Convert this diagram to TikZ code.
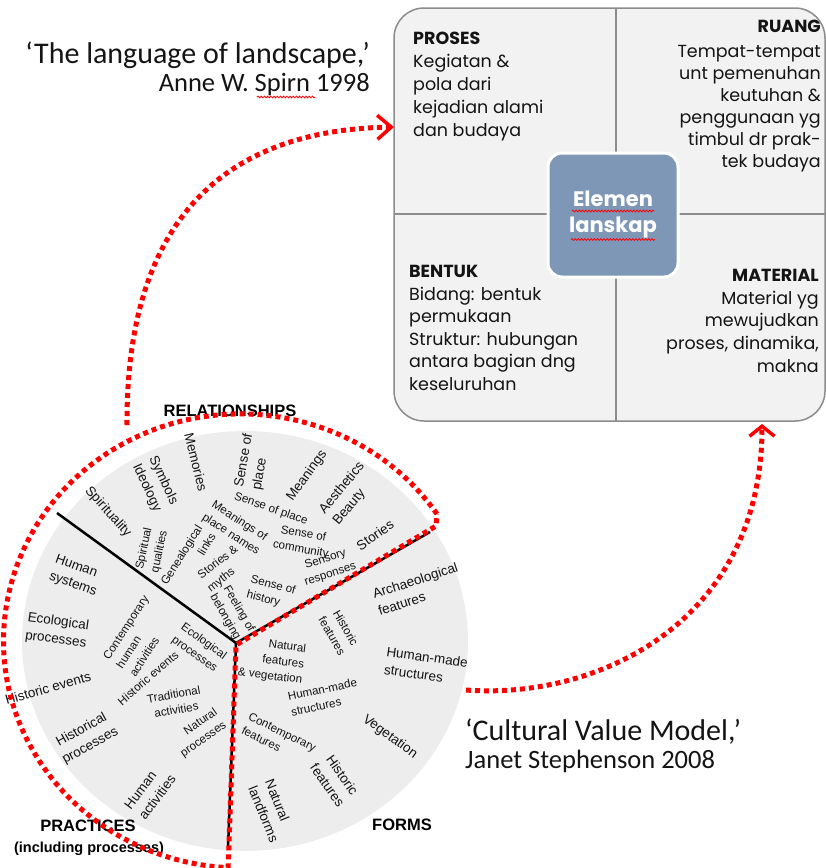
\documentclass[tikz,border=0pt]{standalone}
\usepackage{fontspec}
\setmainfont{Liberation Sans}
\newfontfamily\citefont{Carlito}
\newfontfamily\gothic{Poppins}
\usetikzlibrary{arrows.meta,decorations.pathmorphing}
\definecolor{diskgray}{HTML}{EDEDED}
\definecolor{boxgray}{HTML}{F2F2F2}
\definecolor{boxline}{HTML}{8C8C8C}
\definecolor{elemblue}{HTML}{7F97B7}
\definecolor{txt}{HTML}{141414}
\tikzset{
  lbl/.style={font=\fontsize{13.5}{18}\selectfont, text=txt, inner sep=0pt, align=center},
  ilbl/.style={font=\fontsize{11.6}{15.7}\selectfont, text=txt, inner sep=0pt, align=center},
  heading/.style={font=\bfseries\fontsize{16.5}{18}\selectfont, text=black, inner sep=0pt},
  reddot/.style={draw=red, line width=5pt, dash pattern=on 5pt off 4pt},
  divider/.style={draw=black, line width=2.5pt},
  quadtext/.style={text=txt, inner sep=0pt},
  citebig/.style={font=\citefont\fontsize{30}{30}\selectfont, text=txt, inner sep=0pt},
  citesmall/.style={font=\citefont\fontsize{26.5}{26.5}\selectfont, text=txt, inner sep=0pt},
  squiggle/.style={draw=red, line width=0.8pt, decorate, decoration={snake, amplitude=0.9pt, segment length=3.2pt}},
}
\begin{document}
\begin{tikzpicture}[x=1pt,y=-1pt]
\useasboundingbox (0,0) rectangle (826,868);
% ---------- cultural value model disk ----------
\fill[diskgray] (245,641) ellipse [x radius=223, y radius=210];
% outer labels
\node[lbl, rotate=-48] (spirituality) at (108,512) {Spirituality};
\node[lbl, rotate=-65] (symbols) at (155,484) {Symbols\\Ideology};
\node[lbl, rotate=-76] (memories) at (196,462) {Memories};
\node[lbl, rotate=80, align=left] (senseplaceo) at (253,462) {Sense of\\place};
\node[lbl, rotate=54] (meanings) at (307,476) {Meanings};
\node[lbl, rotate=50, align=left] (aesthetics) at (349,494) {Aesthetics\\Beauty};
\node[lbl, rotate=35] (stories) at (375,535) {Stories};
\node[lbl, rotate=-20, align=left] (humansys) at (76,576) {Human\\systems};
\node[lbl, rotate=-8, align=left] (ecoproco) at (57,631) {Ecological\\processes};
\node[lbl, rotate=16] (histevo) at (48,688) {Historic events};
\node[lbl, rotate=29] (histproc) at (86,738) {Historical\\processes};
\node[lbl, rotate=53, align=left] (humanact) at (150,792) {Human\\activities};
\node[lbl, rotate=18, align=left] (archaeo) at (418,589) {Archaeological\\features};
\node[lbl, rotate=-8, align=left] (humanmadeo) at (426,666) {Human-made\\structures};
\node[lbl, rotate=-36] (vegetation) at (390,737) {Vegetation};
\node[lbl, rotate=-55] (histfeato) at (335,780) {Historic\\features};
\node[lbl, rotate=-68, align=left] (landforms) at (272,811) {Natural\\landforms};
% inner labels
\node[ilbl, rotate=78, align=left] (spiritual) at (152,550) {Spiritual\\qualities};
\node[ilbl, rotate=58, align=right] (genea) at (188,559) {Genealogical\\links};
\node[ilbl, rotate=-33] (meaningsof) at (235,528) {Meanings of\\place names};
\node[ilbl, rotate=-19] (senseplacei) at (271,509) {Sense of place};
\node[ilbl, rotate=-10] (community) at (302,542) {Sense of\\community};
\node[ilbl, rotate=18] (sensory) at (328,567) {Sensory\\responses};
\node[ilbl, rotate=38, align=left] (myths) at (223,569) {Stories \&\\myths};
\node[ilbl, rotate=-60] (belonging) at (232,613) {Feeling of\\belonging};
\node[ilbl, rotate=-15, align=left] (history) at (271,593) {Sense of\\history};
\node[ilbl, rotate=57, align=left] (contemphuman) at (139,636) {Contemporary\\human\\activities};
\node[ilbl, rotate=-36] (ecoproci) at (199,648) {Ecological\\processes};
\node[ilbl, rotate=41] (histevi) at (148,678) {Historic events};
\node[ilbl, rotate=10] (traditional) at (175,702) {Traditional\\activities};
\node[ilbl, rotate=35, align=right] (natproc) at (199,733) {Natural\\processes};
\node[ilbl, rotate=-60] (histfeati) at (339,632) {Historic\\features};
\node[ilbl, rotate=-7, align=right] (natfeat) at (272,661) {Natural\\features\\\& vegetation};
\node[ilbl, rotate=12, align=left] (humanmadei) at (324,697) {Human-made\\structures};
\node[ilbl, rotate=-26, align=left] (contempfeat) at (279,739) {Contemporary\\features};
% headings
\node[heading] (relationships) at (230,411) {RELATIONSHIPS};
\node[heading] (forms) at (402,825) {FORMS};
\node[heading] (practices) at (88,826) {PRACTICES};
\node[heading, font=\bfseries\fontsize{14.5}{16}\selectfont] (inclproc) at (89,849) {(including processes)};
% sector dividers
\coordinate (J) at (236,643);
\coordinate (ulEnd) at (57,513);
\coordinate (urEnd) at (430,532);
\coordinate (bEnd) at (228,848);
\draw[divider] (ulEnd) -- (J) -- (urEnd);
\draw[divider] (J) -- (bEnd);
% red dotted outline
\draw[reddot] (437,514) arc[start angle=-34, end angle=-267, x radius=237, y radius=227] -- (236,645) -- (436,526) -- cycle;
% ---------- landscape elements box ----------
\node[draw=boxline, fill=boxgray, line width=1.5pt, rounded corners=30pt, minimum width=431pt, minimum height=413pt, inner sep=0pt] (box) at (609.5,214.5) {};
\draw[boxline, line width=1.3pt] (616,8) -- (616,421);
\draw[boxline, line width=1.3pt] (394,214) -- (825,214);
\node[fill=elemblue, draw=white, line width=3pt, rounded corners=14pt, minimum width=130pt, minimum height=124pt, text=white, font=\gothic\bfseries\fontsize{21}{26}\selectfont, align=center] (elem) at (613,215) {Elemen\\lanskap};
\draw[squiggle] (572,211) -- (654,211);
\draw[squiggle] (571,239.5) -- (655,239.5);
\node[quadtext, anchor=north west, align=left, font=\gothic\fontsize{17.5}{23}\selectfont] (proses) at (413,32) {{\bfseries PROSES}\\Kegiatan \&\\pola dari\\kejadian alami\\dan budaya};
\node[quadtext, anchor=base east, font=\gothic\bfseries\fontsize{17.5}{23}\selectfont] (ruang) at (821,32) {RUANG};
\node[quadtext, anchor=north east, align=right, font=\gothic\fontsize{17.5}{22}\selectfont] (ruangtext) at (821,45) {Tempat-tempat\\unt pemenuhan\\keutuhan \&\\penggunaan yg\\timbul dr prak-\\tek budaya};
\node[quadtext, anchor=north west, align=left, font=\gothic\fontsize{17.5}{22.6}\selectfont] (bentuk) at (409,265) {{\bfseries BENTUK}\\Bidang: bentuk\\permukaan\\Struktur: hubungan\\antara bagian dng\\keseluruhan};
\node[quadtext, anchor=north east, align=right, font=\gothic\fontsize{17.5}{22.75}\selectfont] (material) at (819,269) {{\bfseries MATERIAL}\\Material yg\\mewujudkan\\proses, dinamika,\\makna};
% ---------- citations ----------
\node[citebig, anchor=base east] (cite1a) at (370,63) {‘The language of landscape,’};
\node[citesmall, anchor=base east] (cite1b) at (370,91) {Anne W. Spirn 1998};
\draw[squiggle] (257,97) -- (315,97);
\node[citebig, anchor=base west] (cite2a) at (465,740) {‘Cultural Value Model,’};
\node[citesmall, anchor=base west] (cite2b) at (465,768) {Janet Stephenson 2008};
% ---------- connecting arrows ----------
\coordinate (relTop) at (127,425);
\coordinate (prosesIn) at (394,127);
\coordinate (formsOut) at (466,690);
\coordinate (materialIn) at (762,424);
\draw[reddot, -{Straight Barb[length=14pt,width=24pt,line width=3.5pt]}] (relTop) .. controls (126,230) and (215,130) .. (prosesIn);
\draw[reddot, -{Straight Barb[length=10pt,width=25pt,line width=3.5pt]}] (formsOut) .. controls (600,700) and (762,620) .. (materialIn);
\end{tikzpicture}
\end{document}
